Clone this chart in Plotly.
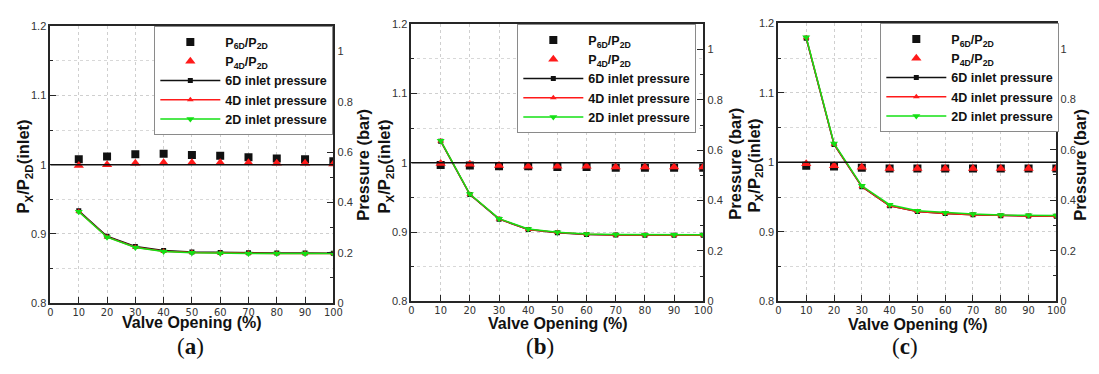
import plotly.graph_objects as go

W, H = 1099, 374

valve_opening = [10, 20, 30, 40, 50, 60, 70, 80, 90, 100]

# panel (a)
ratio6_a = [1.008, 1.012, 1.015, 1.016, 1.014, 1.013, 1.011, 1.009, 1.008, 1.005]
ratio4_a = [0.999, 1.000, 1.002, 1.003, 1.003, 1.003, 1.003, 1.002, 1.002, 1.001]
p6_a = [0.367, 0.266, 0.225, 0.209, 0.203, 0.201, 0.200, 0.199, 0.199, 0.198]
p4_a = [0.364, 0.263, 0.222, 0.206, 0.201, 0.199, 0.198, 0.197, 0.197, 0.197]
p2_a = [0.363, 0.262, 0.221, 0.205, 0.200, 0.198, 0.197, 0.197, 0.197, 0.197]

# panel (b)
ratio6_b = [0.997, 0.996, 0.995, 0.995, 0.994, 0.994, 0.993, 0.993, 0.993, 0.993]
ratio4_b = [0.999, 0.998, 0.996, 0.995, 0.995, 0.995, 0.994, 0.994, 0.994, 0.994]
p6_b = [0.636, 0.424, 0.326, 0.285, 0.272, 0.265, 0.263, 0.262, 0.262, 0.262]
p4_b = [0.637, 0.425, 0.327, 0.285, 0.273, 0.266, 0.263, 0.263, 0.262, 0.262]
p2_b = [0.638, 0.426, 0.328, 0.287, 0.274, 0.267, 0.265, 0.264, 0.264, 0.264]

# panel (c)
ratio6_c = [0.995, 0.994, 0.992, 0.991, 0.991, 0.991, 0.991, 0.991, 0.991, 0.991]
ratio4_c = [0.998, 0.995, 0.993, 0.991, 0.991, 0.991, 0.991, 0.991, 0.991, 0.991]
p6_c = [1.041, 0.621, 0.453, 0.378, 0.355, 0.347, 0.342, 0.338, 0.337, 0.336]
p4_c = [1.043, 0.622, 0.454, 0.378, 0.355, 0.347, 0.342, 0.338, 0.337, 0.336]
p2_c = [1.045, 0.625, 0.457, 0.382, 0.358, 0.350, 0.345, 0.341, 0.340, 0.339]

REF_RATIO = 1.0
panel_labels = ["(<b>a</b>)", "(<b>b</b>)", "(<b>c</b>)"]
legend_names = ["<b>P<sub>6D</sub>/P<sub>2D</sub></b>", "<b>P<sub>4D</sub>/P<sub>2D</sub></b>",
                "<b>6D inlet pressure</b>", "<b>4D inlet pressure</b>", "<b>2D inlet pressure</b>"]

panels = [
    dict(r6=ratio6_a, r4=ratio4_a, p6=p6_a, p4=p4_a, p2=p2_a,
         px=(48, 334), py=(21, 307), leg=(153, 21),
         lt=(21, 166), rt=(364, 164), xt=(191, 327), pl=(190, 352)),
    dict(r6=ratio6_b, r4=ratio4_b, p6=p6_b, p4=p4_b, p2=p2_b,
         px=(413, 708), py=(19, 305), leg=(520, 19),
         lt=(386, 166), rt=(740, 163), xt=(561, 328), pl=(543, 352)),
    dict(r6=ratio6_c, r4=ratio4_c, p6=p6_c, p4=p4_c, p2=p2_c,
         px=(784, 1065), py=(18, 305), leg=(887, 18),
         lt=(760, 165), rt=(1089, 164), xt=(925, 329), pl=(912, 352)),
]

BLACK = "#111111"
RED = "#ff1a1a"
GREEN = "#14e014"
AXC = "#262626"
TICKFONT = dict(family="Liberation Sans, Arial, sans-serif", size=11, color="#333333")
XTICKFONT = dict(family="Liberation Sans Narrow, Arial Narrow, DejaVu Sans Condensed, sans-serif",
                 size=11, color="#333333")
TITLEFONT = dict(family="Liberation Sans, Arial, sans-serif", size=16.5, color="#111111")

fig = go.Figure()
layout = dict(width=W, height=H, margin=dict(l=0, r=0, t=0, b=0),
              paper_bgcolor="white", plot_bgcolor="white", showlegend=True)
annotations = []
shapes = []

for i, p in enumerate(panels):
    n = i + 1
    xa = "x" if n == 1 else f"x{n}"
    yl_idx = 2 * i + 1
    yr_idx = 2 * i + 2
    yl = "y" if yl_idx == 1 else f"y{yl_idx}"
    yr = f"y{yr_idx}"
    leg = "legend" if n == 1 else f"legend{n}"

    xd = [p["px"][0] / W, p["px"][1] / W]
    yd = [1 - p["py"][1] / H, 1 - p["py"][0] / H]

    xname = "xaxis" if n == 1 else f"xaxis{n}"
    ylname = "yaxis" if yl_idx == 1 else f"yaxis{yl_idx}"
    yrname = f"yaxis{yr_idx}"

    layout[xname] = dict(domain=xd, anchor=yl, range=[0, 100], dtick=10, tick0=0,
                         showline=True, linecolor=AXC, linewidth=2, mirror=True,
                         ticks="inside", ticklen=6, tickcolor=AXC, tickwidth=1,
                         ticklabelstandoff=-2,
                         showgrid=True, gridcolor="#cfcfcf", griddash="dot", gridwidth=1,
                         zeroline=False, tickfont=XTICKFONT)
    layout[ylname] = dict(domain=yd, anchor=xa, range=[0.8, 1.2], dtick=0.1, tick0=0.8,
                          showline=True, linecolor=AXC, linewidth=2,
                          ticks="inside", ticklen=6, tickcolor=AXC, tickwidth=1,
                          showgrid=True, gridcolor="#cfcfcf", griddash="dot", gridwidth=1,
                          minor=dict(dtick=0.05, ticks="inside", ticklen=3, tickcolor=AXC,
                                     showgrid=True, gridcolor="#d8d8d8", griddash="dot"),
                          zeroline=False, tickfont=TICKFONT)
    layout[yrname] = dict(overlaying=yl, anchor=xa, side="right", range=[0, 1.1], dtick=0.2,
                          tick0=0, showline=True, linecolor=AXC, linewidth=2,
                          ticks="inside", ticklen=6, tickcolor=AXC, tickwidth=1,
                          minor=dict(dtick=0.1, ticks="inside", ticklen=3, tickcolor=AXC),
                          showgrid=False, zeroline=False, tickfont=TICKFONT)

    layout[leg] = dict(x=p["leg"][0] / W, y=1 - p["leg"][1] / H, xanchor="left", yanchor="top",
                       bgcolor="white", bordercolor="#8a8a8a", borderwidth=1,
                       itemwidth=60, tracegroupgap=0,
                       font=dict(family="Liberation Sans, Arial, sans-serif", size=12.5,
                                 color="#111111"))

    # pressure lines (right axis)
    fig.add_trace(go.Scatter(x=valve_opening, y=p["p6"], xaxis=xa, yaxis=yr, mode="lines+markers",
                             name=legend_names[2], legend=leg, legendrank=3,
                             line=dict(color=BLACK, width=1.5),
                             marker=dict(symbol="square", size=5, color=BLACK)))
    fig.add_trace(go.Scatter(x=valve_opening, y=p["p4"], xaxis=xa, yaxis=yr, mode="lines+markers",
                             name=legend_names[3], legend=leg, legendrank=4,
                             line=dict(color=RED, width=1.5),
                             marker=dict(symbol="triangle-up", size=6, color=RED)))
    fig.add_trace(go.Scatter(x=valve_opening, y=p["p2"], xaxis=xa, yaxis=yr, mode="lines+markers",
                             name=legend_names[4], legend=leg, legendrank=5,
                             line=dict(color=GREEN, width=1.5),
                             marker=dict(symbol="triangle-down", size=7, color=GREEN)))
    # ratio markers (left axis)
    fig.add_trace(go.Scatter(x=valve_opening, y=p["r6"], xaxis=xa, yaxis=yl, mode="markers",
                             name=legend_names[0], legend=leg, legendrank=1,
                             marker=dict(symbol="square", size=8, color=BLACK)))
    fig.add_trace(go.Scatter(x=valve_opening, y=p["r4"], xaxis=xa, yaxis=yl, mode="markers",
                             name=legend_names[1], legend=leg, legendrank=2,
                             marker=dict(symbol="triangle-up", size=9, color=RED)))

    # reference line at ratio 1
    shapes.append(dict(type="line", xref=f"{xa} domain", yref=yl, x0=0, x1=1,
                       y0=REF_RATIO, y1=REF_RATIO, line=dict(color=BLACK, width=1.5),
                       layer="above"))

    # titles
    annotations.append(dict(text="<b>P<sub>X</sub>/P<sub>2D</sub>(inlet)</b>", textangle=-90,
                            x=p["lt"][0] / W, y=1 - p["lt"][1] / H, xref="paper", yref="paper",
                            showarrow=False, xanchor="center", yanchor="middle", font=TITLEFONT))
    annotations.append(dict(text="<b>Pressure (bar)</b>", textangle=-90,
                            x=p["rt"][0] / W, y=1 - p["rt"][1] / H, xref="paper", yref="paper",
                            showarrow=False, xanchor="center", yanchor="middle", font=TITLEFONT))
    annotations.append(dict(text="<b>Valve Opening (%)</b>",
                            x=p["xt"][0] / W, y=1 - p["xt"][1] / H, xref="paper", yref="paper",
                            showarrow=False, xanchor="center", yanchor="middle",
                            font=dict(family="Liberation Sans, Arial, sans-serif", size=16,
                                      color="#111111")))
    annotations.append(dict(text=panel_labels[i],
                            x=p["pl"][0] / W, y=1 - p["pl"][1] / H, xref="paper", yref="paper",
                            showarrow=False, xanchor="center", yanchor="middle",
                            font=dict(family="Liberation Serif, Times New Roman, serif", size=23,
                                      color="#111111")))

layout["annotations"] = annotations
layout["shapes"] = shapes
fig.update_layout(**layout)
fig.write_html("out.html")
